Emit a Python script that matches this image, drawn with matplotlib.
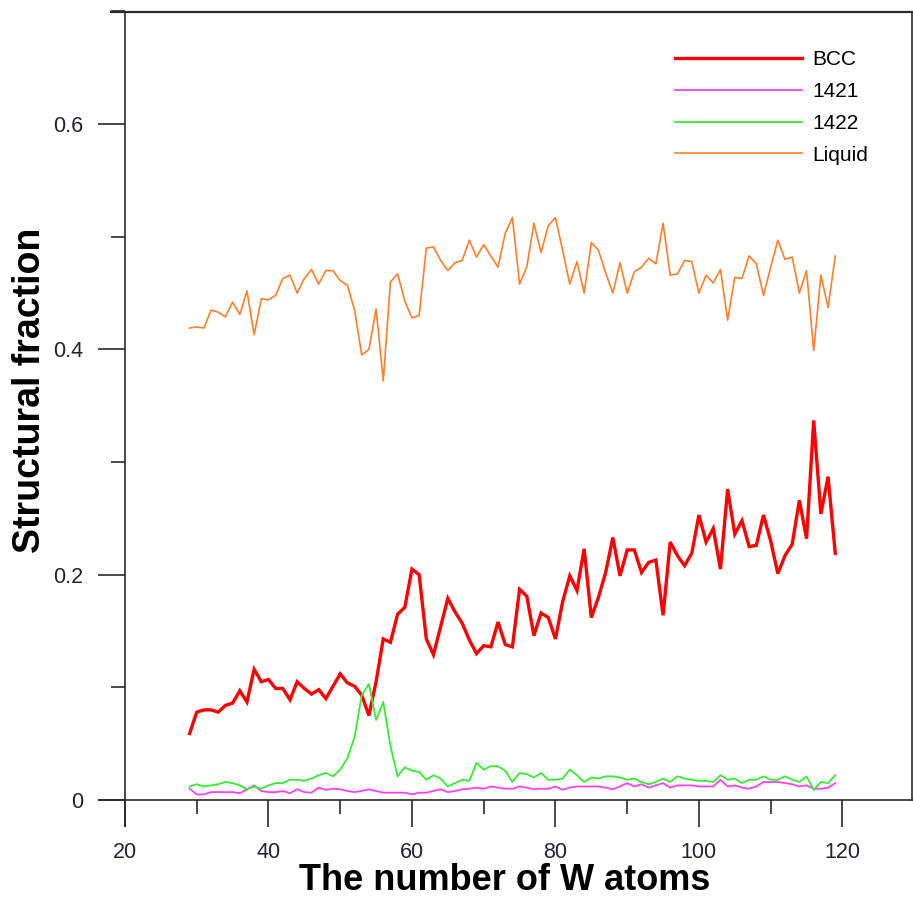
import matplotlib
matplotlib.use("Agg")
import matplotlib.pyplot as plt
from matplotlib.ticker import MultipleLocator

plt.rcParams['font.family'] = ['Liberation Sans', 'DejaVu Sans']

n_atoms = list(range(29, 120))

bcc = [0.059, 0.078, 0.080, 0.080, 0.078, 0.084, 0.086, 0.097, 0.087, 0.116,
       0.105, 0.107, 0.099, 0.099, 0.089, 0.105, 0.099, 0.094, 0.098, 0.090,
       0.101, 0.112, 0.104, 0.101, 0.093, 0.075, 0.105, 0.143, 0.140, 0.165,
       0.171, 0.205, 0.200, 0.143, 0.129, 0.154, 0.179, 0.167, 0.157, 0.142,
       0.130, 0.137, 0.136, 0.158, 0.138, 0.136, 0.187, 0.181, 0.146, 0.166,
       0.162, 0.143, 0.176, 0.199, 0.186, 0.223, 0.162, 0.180, 0.202, 0.233,
       0.199, 0.222, 0.222, 0.202, 0.211, 0.213, 0.164, 0.229, 0.217, 0.208,
       0.219, 0.253, 0.229, 0.241, 0.205, 0.276, 0.236, 0.248, 0.225, 0.226,
       0.253, 0.230, 0.201, 0.217, 0.227, 0.266, 0.232, 0.337, 0.254, 0.287,
       0.219]

s1421 = [0.010, 0.005, 0.005, 0.007, 0.007, 0.007, 0.007, 0.006, 0.0095, 0.013,
         0.008, 0.007, 0.007, 0.008, 0.006, 0.0095, 0.007, 0.0065, 0.011, 0.009,
         0.010, 0.0095, 0.008, 0.007, 0.008, 0.0095, 0.008, 0.0065, 0.0065, 0.0065,
         0.0065, 0.005, 0.0065, 0.0065, 0.008, 0.0095, 0.007, 0.008, 0.0095, 0.010,
         0.011, 0.010, 0.012, 0.011, 0.010, 0.010, 0.012, 0.011, 0.0095, 0.010,
         0.010, 0.012, 0.009, 0.011, 0.012, 0.012, 0.012, 0.012, 0.011, 0.0095,
         0.012, 0.015, 0.012, 0.014, 0.011, 0.013, 0.015, 0.011, 0.013, 0.013,
         0.013, 0.012, 0.012, 0.012, 0.018, 0.012, 0.013, 0.011, 0.010, 0.012,
         0.016, 0.016, 0.016, 0.015, 0.014, 0.012, 0.013, 0.010, 0.010, 0.011,
         0.015]

s1422 = [0.012, 0.014, 0.012, 0.013, 0.014, 0.016, 0.015, 0.013, 0.0095, 0.012,
         0.010, 0.013, 0.015, 0.015, 0.018, 0.018, 0.017, 0.019, 0.022, 0.024,
         0.021, 0.027, 0.037, 0.056, 0.093, 0.103, 0.071, 0.087, 0.048, 0.021,
         0.029, 0.026, 0.025, 0.018, 0.022, 0.019, 0.012, 0.015, 0.018, 0.017,
         0.033, 0.027, 0.030, 0.030, 0.026, 0.016, 0.024, 0.023, 0.020, 0.024,
         0.018, 0.018, 0.019, 0.027, 0.022, 0.016, 0.020, 0.019, 0.021, 0.021,
         0.020, 0.018, 0.019, 0.016, 0.014, 0.016, 0.019, 0.016, 0.021, 0.019,
         0.018, 0.017, 0.017, 0.016, 0.022, 0.018, 0.019, 0.015, 0.018, 0.018,
         0.021, 0.018, 0.018, 0.021, 0.018, 0.016, 0.021, 0.009, 0.016, 0.015,
         0.022]

liquid = [0.419, 0.420, 0.419, 0.435, 0.433, 0.429, 0.442, 0.431, 0.452, 0.413,
          0.445, 0.444, 0.448, 0.463, 0.466, 0.450, 0.463, 0.471, 0.458, 0.470,
          0.470, 0.461, 0.457, 0.435, 0.395, 0.400, 0.436, 0.372, 0.460, 0.467,
          0.443, 0.428, 0.430, 0.490, 0.491, 0.479, 0.470, 0.477, 0.479, 0.497,
          0.482, 0.493, 0.483, 0.473, 0.503, 0.517, 0.458, 0.473, 0.512, 0.486,
          0.510, 0.517, 0.488, 0.458, 0.478, 0.450, 0.495, 0.488, 0.468, 0.450,
          0.477, 0.450, 0.469, 0.473, 0.481, 0.476, 0.512, 0.466, 0.467, 0.479,
          0.478, 0.450, 0.466, 0.459, 0.471, 0.426, 0.464, 0.463, 0.483, 0.476,
          0.448, 0.473, 0.497, 0.480, 0.482, 0.450, 0.470, 0.399, 0.466, 0.437,
          0.483]

series_labels = ['BCC', '1421', '1422', 'Liquid']
x_ticks = [20, 40, 60, 80, 100, 120]
y_ticks = [0, 0.2, 0.4, 0.6]
y_tick_labels = ['0', '0.2', '0.4', '0.6']

W, H = 913, 901
fig = plt.figure(figsize=(W / 100, H / 100), dpi=100)
ax = fig.add_axes([125 / W, (H - 800) / H, 787 / W, 788.5 / H])

ax.plot(n_atoms, bcc, color='#ff0000', lw=2.4, label=series_labels[0], solid_joinstyle='miter')
ax.plot(n_atoms, s1421, color='#ff40ff', lw=1.3, label=series_labels[1])
ax.plot(n_atoms, s1422, color='#33ee33', lw=1.3, label=series_labels[2])
ax.plot(n_atoms, liquid, color='#ff7f2a', lw=1.2, label=series_labels[3])

ax.set_xlim(20, 129.7)
ax.set_ylim(0, 0.7)

ax.set_xticks(x_ticks)
ax.set_yticks(y_ticks)
ax.set_yticklabels(y_tick_labels)
ax.xaxis.set_minor_locator(MultipleLocator(10))
ax.yaxis.set_minor_locator(MultipleLocator(0.1))

spine_c = '#2a2a2a'
for s in ax.spines.values():
    s.set_color(spine_c)
    s.set_linewidth(1.2)
ax.spines['top'].set_linewidth(1.6)

ax.tick_params(which='major', direction='out', length=19.5, width=1.2, color=spine_c,
               labelsize=15.5, pad=10.5, labelcolor='#222233')
ax.tick_params(which='minor', direction='out', length=10, width=1.2, color=spine_c)

# axis line extensions (Origin-style crossing axes)
ext = dict(color=spine_c, lw=1.2, clip_on=False, transform=ax.transAxes, solid_capstyle='butt')
ax.plot([-27 / 787, 0], [0, 0], **ext)
ax.plot([0, 0], [0, -27 / 788.5], **ext)
ax.plot([-15 / 787, 0], [1, 1], color=spine_c, lw=1.6, clip_on=False,
        transform=ax.transAxes, solid_capstyle='butt')

ax.set_xlabel('The number of W atoms', fontsize=26, fontweight='bold', color='black')
ax.xaxis.set_label_coords((505 - 125) / 787, (800 - 881) / 788.5)
ax.xaxis.label.set_va('center')
ax.set_ylabel('Structural fraction', fontsize=27, fontweight='bold', color='black')
ax.yaxis.label.set_va('center')
ax.yaxis.set_label_coords((30 - 125) / 787, (800 - 390) / 788.5)

leg = ax.legend(loc='upper left', bbox_to_anchor=((675 - 125) / 787, (800 - 50) / 788.5),
                frameon=False, fontsize=15, handlelength=6.1, handletextpad=0.48,
                labelspacing=0.62, borderpad=0, borderaxespad=0)

fig.savefig('out.png', dpi=100)
